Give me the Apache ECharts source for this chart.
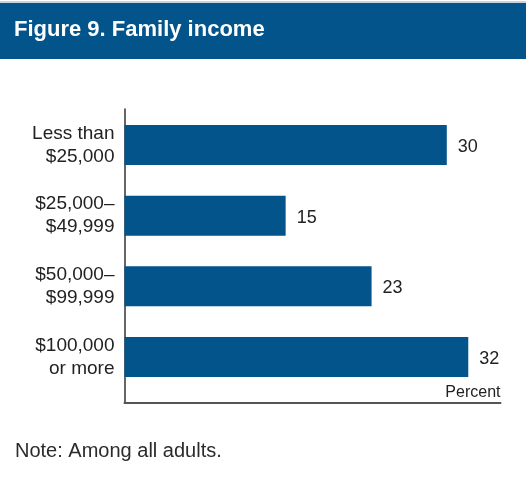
<!DOCTYPE html>
<html>
<head>
<meta charset="utf-8">
<script src="https://cdn.jsdelivr.net/npm/echarts@6/dist/echarts.min.js"></script>
<style>
  html, body { margin: 0; padding: 0; background: #fff; }
  #chart { width: 526px; height: 480px; }
</style>
</head>
<body>
<div id="chart"></div>
<script>
// Family income categories and the share of adults in each (percent)
const categories = ['Less than\n$25,000', '$25,000–\n$49,999', '$50,000–\n$99,999', '$100,000\nor more'];
const percentValues = [30, 15, 23, 32];
const axisMax = 35;

const BLUE = '#03548b';
const FONT = '"Liberation Sans", Arial, sans-serif';

const chart = echarts.init(document.getElementById('chart'));
chart.setOption({
  backgroundColor: '#ffffff',
  animation: false,
  textStyle: { fontFamily: FONT },
  title: {
    text: 'Figure 9. Family income',
    left: 9,
    top: 14,
    textStyle: { color: '#ffffff', fontSize: 22, fontWeight: 'bold', fontFamily: FONT }
  },
  graphic: [
    { type: 'rect', z: -1, shape: { x: 0, y: 3, width: 526, height: 56 }, style: { fill: BLUE } },
    { type: 'rect', z: -1, shape: { x: 0, y: 1, width: 526, height: 2 }, style: { fill: '#c9d3dd' } },
    {
      type: 'text', left: 15, top: 441,
      style: { text: 'Note: Among all adults.', fill: '#2b2b2b', font: '20px ' + FONT }
    }
  ],
  grid: [
    { left: 124.5, right: 25.5, top: 109.6, height: 282.8, containLabel: false },
    { left: 124.5, right: 25.5, top: 109, bottom: 77, containLabel: false }
  ],
  xAxis: [
    { gridIndex: 0, type: 'value', min: 0, max: axisMax, show: false },
    {
      gridIndex: 1, type: 'value', min: 0, max: axisMax,
      axisLine: { show: true, lineStyle: { color: '#555555', width: 2 } },
      axisTick: { show: false }, axisLabel: { show: false }, splitLine: { show: false },
      name: 'Percent', nameLocation: 'end', nameGap: 0,
      nameTextStyle: { align: 'right', verticalAlign: 'bottom', padding: [0, 0, 2, 0], fontSize: 16, color: '#222222', fontFamily: FONT }
    }
  ],
  yAxis: [
    {
      gridIndex: 0, type: 'category', data: categories, inverse: true,
      axisLine: { show: false }, axisTick: { show: false },
      axisLabel: { fontSize: 19, lineHeight: 23, color: '#222222', margin: 10, align: 'right', fontFamily: FONT }
    },
    {
      gridIndex: 1, type: 'value', min: 0, max: 1,
      axisLine: { show: true, lineStyle: { color: '#333333', width: 1.5 } },
      axisTick: { show: false }, axisLabel: { show: false }, splitLine: { show: false }
    }
  ],
  series: [{
    type: 'bar',
    xAxisIndex: 0, yAxisIndex: 0,
    data: percentValues,
    barWidth: 40,
    itemStyle: { color: BLUE },
    label: { show: true, position: 'right', distance: 11, fontSize: 18, color: '#222222', fontFamily: FONT, offset: [0, 2] }
  }]
});
</script>
</body>
</html>
